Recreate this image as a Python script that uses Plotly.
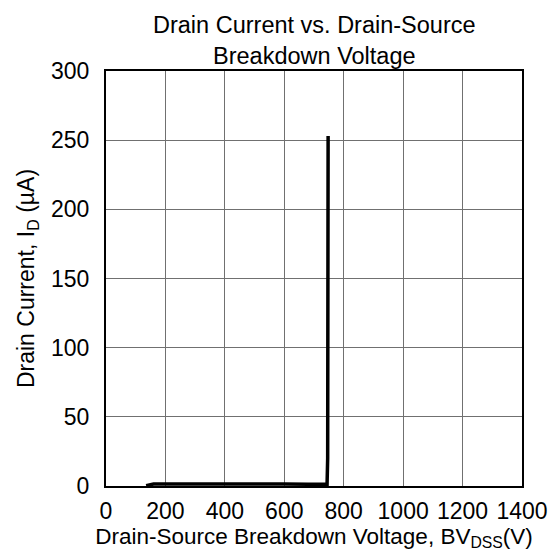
import plotly.graph_objects as go

# Breakdown curve: drain-source voltage (V) vs drain current (uA)
bv_volts = [135, 145, 160, 200, 300, 400, 500, 600, 680, 730, 744, 746, 747, 747.5]
id_uamps = [0.3, 1.0, 1.4, 1.5, 1.6, 1.6, 1.6, 1.5, 1.3, 1.0, 1.2, 20, 150, 253]

x_ticks = [0, 200, 400, 600, 800, 1000, 1200, 1400]
y_ticks = [0, 50, 100, 150, 200, 250, 300]

title_text = "Drain Current vs. Drain-Source<br>Breakdown Voltage"
x_title = "Drain-Source Breakdown Voltage, BV<sub>DSS</sub>(V)"
y_title = "Drain Current, I<sub>D</sub> (µA)"

font_family = "Liberation Sans, Arial, sans-serif"

fig = go.Figure()
fig.add_trace(go.Scatter(
    x=bv_volts, y=id_uamps, mode="lines",
    line=dict(color="black", width=3.5),
    showlegend=False,
))

fig.add_annotation(
    text=title_text, showarrow=False,
    xref="paper", yref="paper", x=0.5, y=1.073,
    xanchor="center", yanchor="middle",
    font=dict(size=23.5, family=font_family, color="black"),
)

fig.update_layout(
    width=556, height=552,
    margin=dict(l=98, r=42, t=63, b=74, autoexpand=False),
    paper_bgcolor="white", plot_bgcolor="white",
    font=dict(family=font_family, color="black", size=23),
)
fig.update_xaxes(
    range=[0, 1400], tickvals=x_ticks, ticktext=[str(v) for v in x_ticks],
    showgrid=True, gridcolor="#707070", gridwidth=1,
    showline=True, linecolor="black", linewidth=2, mirror=True,
    ticks="outside", ticklen=3, tickcolor="rgba(0,0,0,0)", zeroline=False,
    tickfont=dict(size=23), automargin=False,
    title=dict(text=x_title, font=dict(size=22.5), standoff=2),
)
fig.update_yaxes(
    range=[0, 300], tickvals=y_ticks, ticktext=[str(v) for v in y_ticks],
    showgrid=True, gridcolor="#707070", gridwidth=1,
    showline=True, linecolor="black", linewidth=2, mirror=True,
    ticks="outside", ticklen=10, tickcolor="rgba(0,0,0,0)", zeroline=False,
    tickfont=dict(size=23), automargin=False,
    title=dict(text=y_title, font=dict(size=23), standoff=10),
)

fig.write_html("out.html")
